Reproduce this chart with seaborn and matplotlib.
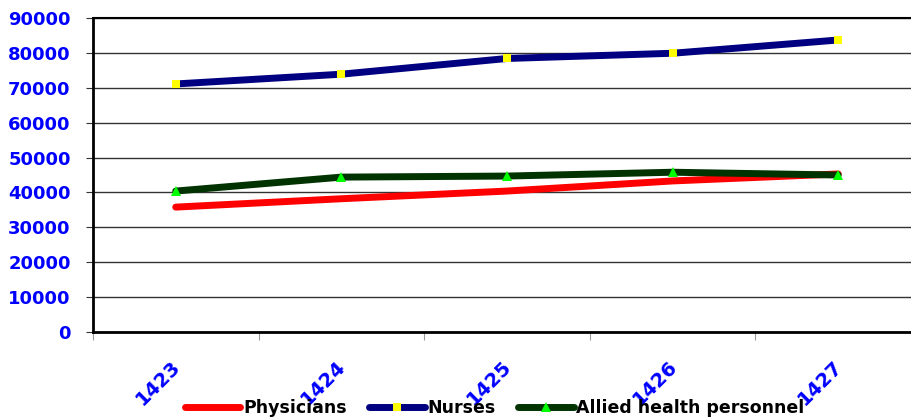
import numpy as np
import pandas as pd
import matplotlib.pyplot as plt
import seaborn as sns

# Data
years = ["1423", "1424", "1425", "1426", "1427"]
physicians = [35800, 38200, 40400, 43300, 45300]
nurses = [71100, 73900, 78400, 79900, 83700]
allied = [40400, 44400, 44700, 45800, 45000]

df = pd.DataFrame({
    "pos": np.arange(len(years)),
    "Physicians": physicians,
    "Nurses": nurses,
    "Allied health personnel": allied,
})

sns.set_style("white")
plt.rcParams['font.family'] = ['DejaVu Sans']

fig = plt.figure(figsize=(9.11, 4.19), dpi=100)
ax = fig.add_axes([0.102, 0.2076, 0.909, 0.7494])

line_kw = dict(linewidth=5, solid_capstyle="round", ax=ax)
sns.lineplot(data=df, x="pos", y="Physicians", color="#ff0000",
             label="Physicians", zorder=3, **line_kw)
sns.lineplot(data=df, x="pos", y="Nurses", color="#000080", marker="s",
             markersize=6, markerfacecolor="#ffff00", markeredgewidth=0,
             label="Nurses", zorder=4, **line_kw)
sns.lineplot(data=df, x="pos", y="Allied health personnel", color="#003300",
             marker="^", markersize=7, markerfacecolor="#00ff00",
             markeredgewidth=0, label="Allied health personnel", zorder=5,
             **line_kw)

ax.set_xlim(-0.5, len(years) - 0.5)
ax.set_ylim(0, 90000)
ax.set_yticks(np.arange(0, 90001, 10000))
ax.set_yticklabels([str(v) for v in range(0, 90001, 10000)],
                   color="#0000ff", fontweight="bold", fontsize=13)
ax.yaxis.grid(True, color="#333333", linewidth=1)
ax.set_axisbelow(True)

# category boundaries as major ticks, labels on minor ticks
# (labels nudged a little right, like the original's rotated labels)
ax.set_xticks(np.arange(-0.5, len(years), 1.0))
ax.set_xticklabels([])
ax.set_xticks(np.arange(len(years)) + 0.05, minor=True)
ax.set_xticklabels(years, minor=True, rotation=45, ha="right", va="top",
                   color="#0000ff", fontweight="bold", fontsize=14)
ax.tick_params(axis="x", which="major", direction="out", length=6,
               color="#999999", bottom=True)
ax.tick_params(axis="x", which="minor", length=0, pad=18)
ax.tick_params(axis="y", direction="out", length=5, color="#333333",
               left=True, pad=11)
ax.set_xlabel("")
ax.set_ylabel("")

for side in ["left", "bottom"]:
    ax.spines[side].set_color("black")
    ax.spines[side].set_linewidth(2)
ax.spines["top"].set_color("black")
ax.spines["top"].set_linewidth(1.5)
ax.spines["right"].set_visible(False)

ax.legend_.remove()
handles, labels = ax.get_legend_handles_labels()
leg = fig.legend(handles, labels, loc="center", bbox_to_anchor=(0.543, 0.026),
                 ncol=3, frameon=False, handlelength=3.2, handletextpad=0.15,
                 columnspacing=1.3, prop={"weight": "bold", "size": 12.5})
for t in leg.get_texts():
    t.set_color("black")

fig.savefig("out.png", dpi=100)
